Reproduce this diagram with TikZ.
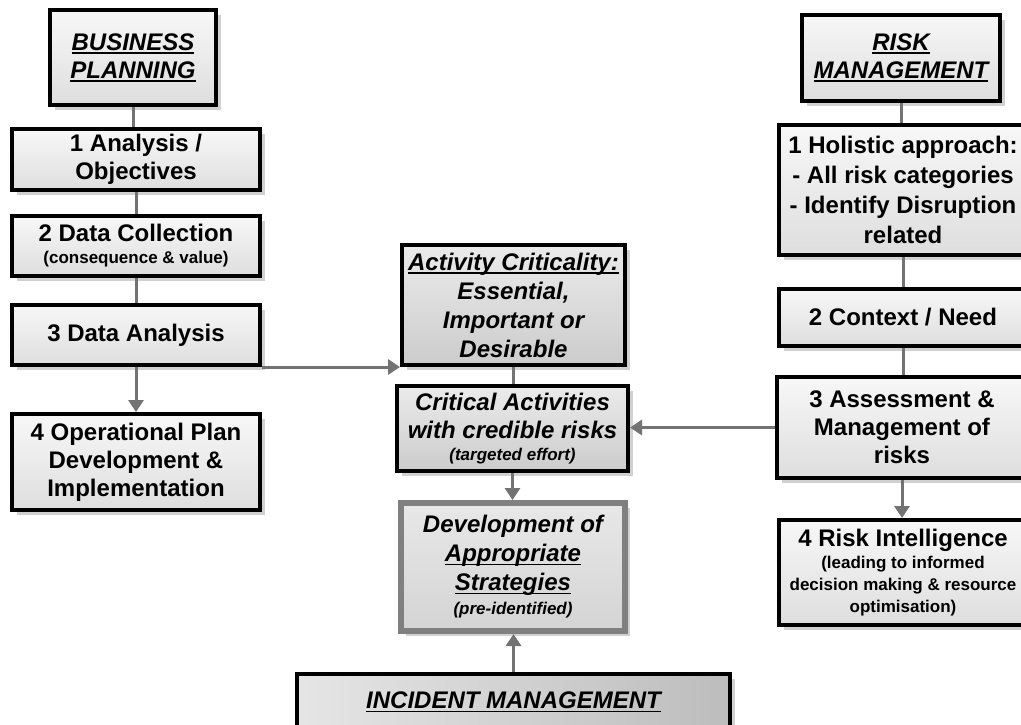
\documentclass[tikz,border=0pt]{standalone}
\usepackage{fontspec}
\setmainfont{Liberation Sans}
\usetikzlibrary{shadows,arrows.meta}
\newcommand\smalltxt{\fontsize{17}{21}\selectfont}
\newsavebox\myulbox
\newcommand\myul[1]{\sbox\myulbox{#1}\rlap{\usebox\myulbox}\rule[-3.5pt]{\wd\myulbox}{1.8pt}}
\begin{document}
\begin{tikzpicture}[x=1pt,y=-1pt,
  box/.style={draw=black, line width=4pt, top color=black!3, bottom color=black!13,
    align=center, inner sep=0pt, font=\bfseries\fontsize{24}{28}\selectfont,
    drop shadow={shadow xshift=5pt,shadow yshift=-5pt,fill=black!18,opacity=1}},
  darkbox/.style={box, top color=black!8, bottom color=black!20},
  devbox/.style={box, draw=black!50, line width=6pt, top color=black!9, bottom color=black!17},
  incbox/.style={box, left color=black!10, right color=black!26},
  conn/.style={draw=black!55, line width=3pt},
  arr/.style={conn, -{Triangle[width=15pt,length=12pt]}, color=black!55}
]
\useasboundingbox (0,0) rectangle (1021,724);
\clip (0,0) rectangle (1021,724);

% left column
\node[box, minimum width=166pt, minimum height=95pt] (BP) at (133,57.5)
  {\itshape\myul{BUSINESS}\\\itshape\myul{PLANNING}};
\node[box, minimum width=248pt, minimum height=61pt] (A1) at (136,159.5)
  {1 Analysis /\\Objectives};
\node[box, minimum width=248pt, minimum height=60pt] (A2) at (136,246)
  {2 Data Collection\\[-6pt]{\smalltxt (consequence \& value)}};
\node[box, minimum width=248pt, minimum height=60pt] (A3) at (136,335)
  {3 Data Analysis};
\node[box, minimum width=248pt, minimum height=96pt] (A4) at (136,462)
  {4 Operational Plan\\Development \&\\Implementation};

% right column
\node[box, minimum width=198pt, minimum height=86pt] (RM) at (901,58)
  {\itshape\myul{RISK}\\\itshape\myul{MANAGEMENT}};
\node[box, minimum width=248pt, minimum height=130pt, font=\bfseries\fontsize{24}{30}\selectfont] (R1) at (903,190)
  {1 Holistic approach:\\- All risk categories\\- Identify Disruption\\related};
\node[box, minimum width=248pt, minimum height=57pt] (R2) at (903,317.5)
  {2 Context / Need};
\node[box, minimum width=250pt, minimum height=101pt] (R3) at (902,427.5)
  {3 Assessment \&\\Management of\\risks};
\node[box, minimum width=248pt, minimum height=105pt] (R4) at (903,572.5)
  {4 Risk Intelligence\\[-6pt]{\smalltxt (leading to informed}\\[-6pt]{\smalltxt decision making \& resource}\\[-6pt]{\smalltxt optimisation)}};

% middle column
\node[darkbox, minimum width=223pt, minimum height=120pt, font=\bfseries\itshape\fontsize{24}{29}\selectfont] (Act) at (513.5,305)
  {\myul{Activity Criticality:}\\Essential,\\Important or\\Desirable};
\node[darkbox, minimum width=231pt, minimum height=85pt, font=\bfseries\itshape\fontsize{24}{28}\selectfont] (Crit) at (512.5,428.5)
  {Critical Activities\\with credible risks\\[-6pt]{\smalltxt (targeted effort)}};
\node[devbox, minimum width=224pt, minimum height=128pt, font=\bfseries\itshape\fontsize{24}{29}\selectfont] (Dev) at (513,567)
  {\raisebox{-3pt}{Development of}\\\raisebox{-3pt}{\myul{Appropriate}}\\\raisebox{-3pt}{\myul{Strategies}}\\[-5pt]{\smalltxt\raisebox{-3pt}{(pre-identified)}}};
\node[incbox, minimum width=433pt, minimum height=58pt, font=\bfseries\itshape\fontsize{24}{28}\selectfont] (Inc) at (513.5,703)
  {\raisebox{5pt}{\myul{INCIDENT MANAGEMENT}}};

% connectors
\draw[conn] (BP.south) -- (BP.south |- A1.north);
\draw[conn] (A1.south) -- (A1.south |- A2.north);
\draw[conn] (A2.south) -- (A2.south |- A3.north);
\draw[arr] (A3.south) -- (A3.south |- A4.north);
\draw[arr] (A3.south east) -- (A3.south east -| Act.west);

\draw[conn] (RM.south) -- (RM.south |- R1.north);
\draw[conn] (R1.south) -- (R1.south |- R2.north);
\draw[conn] (R2.south) -- (R2.south |- R3.north);
\draw[arr] (R3.south) -- (R3.south |- R4.north);
\draw[arr] (R3.west) -- (R3.west -| Crit.east);

\draw[conn] (Act.south) -- (Act.south |- Crit.north);
\draw[arr] (Crit.south) -- (Crit.south |- Dev.north);
\draw[arr] (Inc.north) -- (Inc.north |- Dev.south);
\end{tikzpicture}
\end{document}
